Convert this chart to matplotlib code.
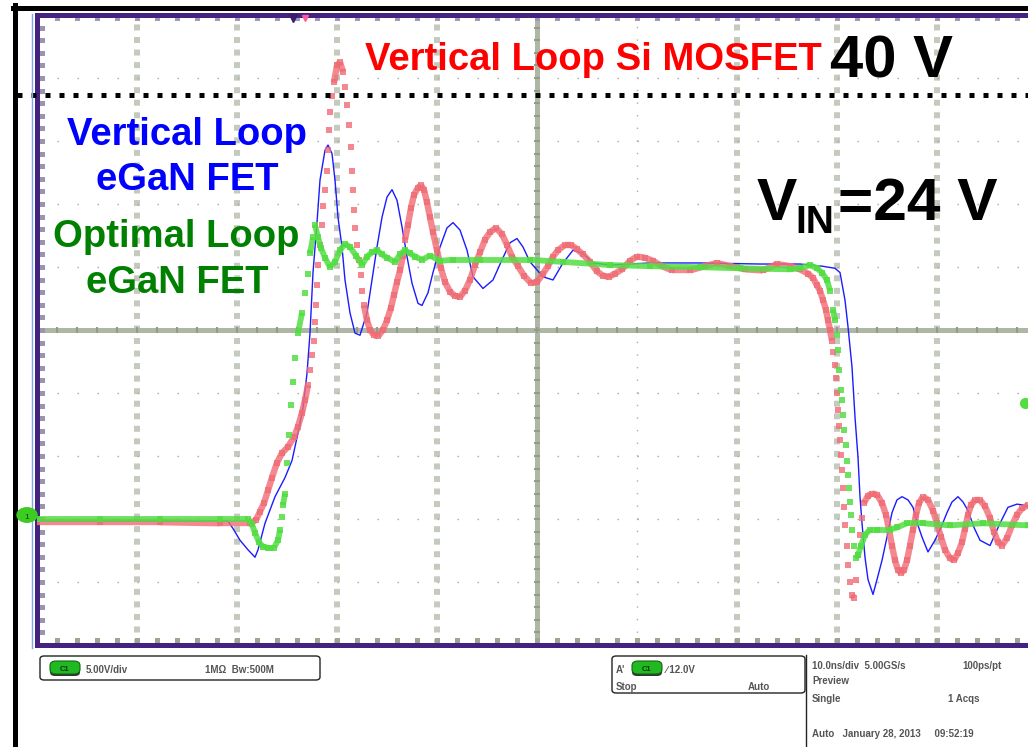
import matplotlib.pyplot as plt
import numpy as np
from matplotlib.collections import LineCollection
from matplotlib.lines import Line2D
from matplotlib.patches import FancyBboxPatch, Circle

plt.rcParams['font.family'] = ['Liberation Sans', 'DejaVu Sans']

# switch-node waveforms, time in ns, voltage in V
blue_t = [0, 11.3, 19.1, 19.6, 20.3, 21.1, 21.8, 22.1, 22.8, 23.8, 24.8, 25.5, 26.1, 26.6,
          27.0, 27.3, 27.6, 28.0, 28.3, 28.8, 29.1, 29.5, 29.8, 30.1, 30.5, 30.8, 31.3, 31.8,
          32.3, 33.0, 33.5, 34.0, 34.5, 35.0, 35.5, 36.0, 36.5, 37.0, 37.5, 38.1, 38.5, 39.1,
          39.6, 40.3, 41.0, 41.6, 42.3, 43.0, 43.6, 44.6, 45.6, 46.5, 47.3, 48.0, 48.6, 49.3,
          50.6, 51.6, 52.6, 53.6, 54.6, 55.6, 57.3, 61.3, 66.3, 72.3, 76.3, 78.5, 79.8, 80.3,
          80.8, 81.1, 81.5, 81.8, 82.1, 82.3, 82.5, 82.8, 83.1, 83.6, 84.0, 84.5, 85.0, 85.5,
          86.0, 86.5, 87.1, 87.6, 88.1, 88.5, 89.1, 89.8, 90.4, 91.0, 91.5, 92.1, 92.6, 93.1,
          93.7, 94.3, 95.3, 96.3, 97.1, 98.0, 98.7, 99.1]
blue_v = [-0.1, -0.1, -0.1, -0.8, -1.9, -2.8, -3.5, -2.8, -0.3, 2.2, 4.0, 5.6, 8.2, 10.6,
          13.8, 17.6, 23.3, 28.0, 32.0, 34.8, 35.3, 34.5, 32.0, 28.5, 25.7, 22.6, 19.5, 17.6,
          17.4, 19.5, 22.6, 25.7, 28.5, 30.4, 31.1, 30.1, 27.6, 24.8, 22.3, 20.4, 20.2, 21.4,
          23.3, 25.7, 27.5, 28.0, 27.3, 25.4, 22.9, 21.8, 22.6, 24.5, 26.1, 26.5, 25.7, 24.3,
          22.9, 22.6, 24.2, 25.4, 25.1, 24.2, 24.0, 24.2, 24.2, 24.1, 24.1, 23.9, 23.7, 23.3,
          20.7, 18.2, 14.4, 9.7, 5.9, 2.2, -0.3, -3.5, -5.6, -7.0, -5.6, -3.8, -1.6, 0.7,
          1.9, 2.2, 1.9, 1.2, -0.5, -1.6, -3.0, -1.9, -0.7, 0.7, 1.7, 2.2, 1.7, 0.9,
          -0.7, -1.9, -2.4, -0.3, 1.2, 1.5, 1.4, 1.2]

red_t = [0, 6.3, 12.3, 18.3, 21.3, 21.9, 22.3, 22.7, 23.1, 23.5, 24.0, 24.5, 25.1, 25.7,
         26.1, 26.5, 26.8, 27.1, 27.3, 27.5, 27.7, 27.8, 27.9, 28.0, 28.1, 28.3, 28.5, 28.6,
         28.8, 29.0, 29.1, 29.2, 29.3, 29.5, 29.7, 30.0, 30.3, 30.6, 30.8, 31.0, 31.2, 31.4,
         31.5, 31.6, 31.7, 31.8, 32.0, 32.2, 32.4, 32.5, 32.7, 33.0, 33.3, 33.7, 34.1, 34.6,
         35.0, 35.4, 35.7, 36.0, 36.3, 36.6, 36.8, 37.1, 37.4, 37.7, 38.1, 38.4, 38.7, 39.0,
         39.3, 39.6, 40.0, 40.4, 40.8, 41.3, 41.8, 42.3, 42.8, 43.3, 43.8, 44.3, 44.8, 45.3,
         45.9, 46.5, 47.0, 47.5, 48.1, 48.7, 49.4, 50.0, 50.6, 51.1, 51.6, 52.1, 52.8, 53.4,
         54.0, 54.6, 55.3, 56.0, 56.6, 57.2, 57.8, 58.5, 59.3, 60.0, 60.8, 61.6, 62.5, 63.5,
         65.3, 66.8, 68.0, 69.3, 70.8, 72.6, 74.0, 75.3, 76.3, 77.1, 77.6, 78.0, 78.3, 78.6,
         78.9, 79.1, 79.3, 79.5, 79.6, 79.8, 79.9, 80.0, 80.1, 80.2, 80.3, 80.4, 80.5, 80.6,
         80.7, 80.8, 81.0, 81.1, 81.3, 81.5, 81.7, 81.9, 82.1, 82.3, 82.5, 82.7, 83.1, 83.5,
         84.0, 84.5, 84.9, 85.2, 85.5, 85.8, 86.1, 86.4, 86.7, 87.0, 87.3, 87.6, 87.9, 88.2,
         88.6, 89.1, 89.6, 90.0, 90.4, 90.8, 91.3, 91.7, 92.1, 92.5, 92.8, 93.1, 93.4, 93.8,
         94.3, 94.8, 95.3, 95.7, 96.1, 96.5, 97.0, 97.5, 98.0, 98.5, 99.1]
red_v = [-0.2, -0.2, -0.2, -0.3, -0.3, 0.0, 0.8, 1.6, 2.8, 4.0, 5.4, 6.3, 6.9, 7.8,
         8.8, 10.1, 11.3, 12.7, 14.1, 15.5, 16.9, 18.6, 20.2, 22.1, 24.0, 25.9, 27.8, 29.6,
         31.1, 32.9, 34.8, 36.7, 38.4, 39.9, 41.2, 42.8, 43.1, 42.2, 40.8, 39.1, 37.2, 35.1,
         32.9, 31.1, 29.2, 27.5, 25.9, 24.5, 23.1, 21.6, 20.2, 18.8, 17.9, 17.4, 17.3, 17.9,
         18.8, 20.0, 21.2, 22.4, 23.5, 24.9, 26.4, 27.8, 29.4, 30.6, 31.3, 31.5, 31.1, 29.9,
         28.5, 27.1, 25.4, 23.7, 22.4, 21.5, 21.1, 21.0, 21.6, 22.6, 24.0, 25.2, 26.4, 27.1,
         27.5, 26.9, 25.9, 24.8, 23.9, 23.0, 22.3, 22.4, 23.2, 23.9, 24.8, 25.4, 25.9, 25.9,
         25.5, 25.0, 24.3, 23.4, 23.0, 22.9, 23.2, 23.6, 24.4, 24.8, 24.7, 24.4, 23.9, 23.5,
         23.5, 23.9, 24.2, 23.9, 23.6, 23.5, 24.1, 23.9, 23.6, 23.2, 22.8, 22.1, 21.6, 20.7,
         19.8, 18.8, 17.9, 16.9, 15.8, 14.6, 13.4, 12.0, 10.4, 8.9, 7.5, 6.1, 4.7, 3.0,
         1.2, -0.5, -2.4, -4.2, -5.8, -7.1, -7.3, -5.6, -3.3, -1.4, 0.2, 1.6, 2.3, 2.5,
         2.4, 1.6, 0.5, -0.9, -2.4, -3.8, -4.7, -5.0, -4.7, -3.8, -2.4, -0.9, 0.5, 1.6,
         2.2, 1.9, 0.9, -0.3, -1.6, -2.8, -3.6, -3.8, -3.1, -2.1, -0.8, 0.5, 1.4, 1.9,
         1.9, 1.3, 0.2, -1.1, -2.1, -2.4, -1.7, -0.5, 0.5, 1.1, 1.4]

green_t = [0, 6.3, 12.3, 18.3, 21.1, 21.5, 21.8, 22.2, 22.6, 23.1, 23.7, 24.1, 24.3, 24.5,
           24.6, 24.8, 25.0, 25.2, 25.4, 25.6, 25.8, 26.1, 26.5, 26.8, 27.1, 27.3, 27.6, 27.8,
           28.1, 28.4, 28.8, 29.3, 29.8, 30.3, 30.8, 31.3, 31.9, 32.5, 33.0, 33.5, 34.0, 34.5,
           35.0, 35.8, 36.3, 36.8, 37.3, 37.8, 38.5, 39.3, 40.3, 41.6, 44.3, 49.3, 52.6, 57.3,
           61.3, 66.3, 70.3, 75.3, 76.3, 77.3, 78.0, 78.5, 79.0, 79.3, 79.6, 79.8, 80.0, 80.1,
           80.2, 80.4, 80.5, 80.6, 80.7, 80.9, 81.0, 81.1, 81.2, 81.3, 81.4, 81.5, 81.7, 81.9,
           82.1, 82.4, 82.8, 83.3, 84.0, 85.3, 86.0, 87.0, 88.6, 91.3, 94.6, 99.1]
green_v = [0.1, 0.1, 0.1, 0.1, 0.1, -0.4, -1.2, -2.1, -2.5, -2.6, -2.6, -1.9, -0.9, 0.3,
           1.4, 2.5, 5.4, 8.0, 10.8, 13.0, 15.3, 17.6, 19.5, 21.4, 23.2, 25.1, 26.6, 27.8,
           26.6, 25.6, 24.7, 23.8, 24.3, 25.4, 26.0, 25.7, 24.9, 24.0, 24.8, 25.2, 25.4, 25.0,
           24.7, 24.3, 25.0, 25.4, 25.1, 24.8, 24.5, 24.9, 24.4, 24.5, 24.5, 24.5, 24.3, 24.0,
           23.9, 23.8, 23.7, 23.6, 23.7, 24.0, 23.7, 23.3, 22.6, 21.6, 19.8, 18.8, 17.4, 16.0,
           14.1, 12.2, 11.3, 9.9, 8.5, 7.1, 5.6, 4.2, 3.0, 1.7, 0.5, -0.9, -2.4, -3.6,
           -3.3, -2.4, -1.4, -0.9, -0.9, -0.9, -0.7, -0.3, -0.3, -0.5, -0.3, -0.5]

V_IN = 24
V_LIMIT = 40
T_DIV = 10.0          # ns/div
V_DIV = 5.93          # V/div on screen
Y_LO = -11.76
Y_HI = Y_LO + 10 * V_DIV
CENTER_V = Y_LO + 5 * V_DIV

W, H = 1028, 747


def P(x, y):
    # figure pixel (from top-left) -> figure fraction
    return x / W, 1 - y / H


def scope_trace(ax, t, v, color, lw, ms, alpha, z, max_slope=6.0):
    # sample dots; where the trace moves slowly the dots merge into a band
    t = np.asarray(t, float)
    v = np.asarray(v, float)
    seg = np.stack([np.column_stack([t[:-1], v[:-1]]),
                    np.column_stack([t[1:], v[1:]])], axis=1)
    dy_px = np.abs(np.diff(v)) / V_DIV * 63
    dx_px = np.diff(t) / T_DIV * 100
    keep = dy_px / dx_px < max_slope
    lc = LineCollection(seg[keep], colors=color, linewidths=lw, alpha=alpha,
                        capstyle='butt', zorder=z)
    ax.add_collection(lc)
    ax.plot(t, v, 's', ms=ms, mew=0, color=color, alpha=alpha, zorder=z)


fig = plt.figure(figsize=(W / 100, H / 100), dpi=100)
ax = fig.add_axes([37 / W, (H - 645) / H, 1000 / W, 630 / H])
ax.set_xlim(0, 10 * T_DIV)
ax.set_ylim(Y_LO, Y_HI)
ax.set_xticks([])
ax.set_yticks([])
purple = '#43237f'
for s in ['left', 'top', 'bottom']:
    ax.spines[s].set_color(purple)
    ax.spines[s].set_linewidth(3.6)
ax.spines['right'].set_visible(False)

# graticule
for k in range(1, 10):
    x = k * T_DIV
    if k == 5:
        ax.axvline(x, color='#aeb6a5', lw=3.6, zorder=1)
    elif k == 6:
        ax.axvline(x, color='#a9aeb5', lw=1, ls=(0, (1, 8.07)), zorder=1)
    else:
        ax.axvline(x, color='#c4cabd', lw=4.3, ls=(0, (1, 1.1)), zorder=1)
for j in range(1, 10):
    y = Y_LO + j * V_DIV
    if j == 5:
        ax.axhline(y, color='#aeb6a5', lw=3.6, zorder=1)
    else:
        ax.axhline(y, color='#a5a9a5', lw=1, ls=(0, (1, 13.4)), zorder=1)

minor_t = np.arange(0, 100.1, 2)
minor_v = Y_LO + np.arange(0, 50.1) * V_DIV / 5
ax.plot(minor_t, [CENTER_V] * len(minor_t), '|', ms=5, mew=1.5, color='#929c88', zorder=1)
ax.plot([5 * T_DIV] * len(minor_v), minor_v, '_', ms=5, mew=1.5, color='#929c88', zorder=1)
ax.plot(minor_t, [Y_HI - 0.25] * len(minor_t), 's', ms=3.6, mew=0, color='#a497bf',
        zorder=2, clip_on=False)
ax.plot(minor_t, [Y_LO + 0.45] * len(minor_t), 's', ms=3.6, mew=0, color='#9ea68f',
        zorder=2, clip_on=False)
ax.plot([0.5] * len(minor_v), minor_v, 's', ms=3.6, mew=0, color='#9c93b0', zorder=2)

# 40 V limit
ax.plot([-2.0, 10 * T_DIV], [V_LIMIT, V_LIMIT], color='black', lw=3.6,
        ls=(0, (1, 1.8)), zorder=6, clip_on=False)

# traces
ax.plot(blue_t, blue_v, color='#1b1bff', lw=1.0, zorder=3)
scope_trace(ax, red_t, red_v, '#f06b74', 4.6, 4.8, 0.8, 4)
scope_trace(ax, green_t, green_v, '#52dd42', 4.2, 4.6, 0.85, 5)

# frame around the screen
fig.add_artist(Line2D([15 / W, 15 / W], [0, 1 - 5 / H], color='black', lw=3.6))
fig.add_artist(Line2D([13 / W, 1], [1 - 7.5 / H] * 2, color='black', lw=3.6))
fig.add_artist(Line2D([32 / W, 32 / W], [1 - 14 / H, 1 - 648 / H], color='#7fa8e8', lw=1))

# markers on the screen edge
fig.add_artist(Circle(P(27, 515), 10 / W, transform=fig.transFigure,
                      color='#3ccc22', zorder=8))
fig.text(*P(27, 519), '1', fontsize=6, ha='center', color='#114411', zorder=9)
ax.plot([98.8], [(520 - 403) / 10.625], 'o', ms=7, color='#52dd42', zorder=7, clip_on=False)
ax.plot([25.6], [Y_HI - 0.3], 'v', ms=6, color='#3a1a70', zorder=7, clip_on=False)
ax.plot([26.8], [Y_HI - 0.3], 'v', ms=5, color='#ff5a9a', zorder=7, clip_on=False)

# annotations
bold = dict(fontweight='bold', va='baseline')
fig.text(*P(365, 70), 'Vertical Loop Si MOSFET', color='#ff0000', fontsize=27.5, **bold)
fig.text(*P(830, 77), '40 V', color='black', fontsize=43, **bold)
fig.text(*P(757, 220), 'V', color='black', fontsize=43.5, **bold)
fig.text(*P(795, 233), 'IN', color='black', fontsize=28, **bold)
fig.text(*P(838, 220), '=24 V', color='black', fontsize=43.5, **bold)
fig.text(*P(187, 145), 'Vertical Loop', color='#0000ff', fontsize=27.5, ha='center', **bold)
fig.text(*P(187, 190), 'eGaN FET', color='#0000ff', fontsize=27.5, ha='center', **bold)
fig.text(*P(176, 247), 'Optimal Loop', color='#008000', fontsize=27.5, ha='center', **bold)
fig.text(*P(177, 293), 'eGaN FET', color='#008000', fontsize=27.5, ha='center', **bold)


# status bar
def box(x0, y0, x1, y1):
    fig.add_artist(FancyBboxPatch(P(x0, y1), (x1 - x0) / W, (y1 - y0) / H,
                                  boxstyle='round,pad=0,rounding_size=0.004',
                                  transform=fig.transFigure, fc='none', ec='#222222',
                                  lw=1))


def pill(x, y):
    fig.add_artist(FancyBboxPatch(P(x, y + 15), 30 / W, 10 / H,
                                  boxstyle='round,pad=0,rounding_size=0.005',
                                  transform=fig.transFigure, fc='#333333', ec='none'))
    fig.add_artist(FancyBboxPatch(P(x, y + 13), 30 / W, 13 / H,
                                  boxstyle='round,pad=0,rounding_size=0.006',
                                  transform=fig.transFigure, fc='#22b822', ec='#116611',
                                  lw=0.8))
    fig.text(*P(x + 15, y + 10), 'C1', fontsize=5.5, ha='center', va='baseline',
             color='#0a3a0a', fontweight='bold')


box(40, 656, 320, 680)
pill(50, 661)
box(612, 656, 805, 693)
pill(632, 661)
fig.add_artist(Line2D([806 / W, 806 / W], [0, 1 - 655 / H], color='#222222', lw=1))

small = dict(fontsize=7, fontweight='bold', color='#555555', va='baseline')
fig.text(*P(86, 673), '5.00V/div', **small)
fig.text(*P(205, 673), '1MΩ  Bw:500M', **small)
fig.text(*P(616, 673), "A'", **small)
fig.text(*P(666, 673), '∕ 12.0V', **small)
fig.text(*P(616, 690), 'Stop', **small)
fig.text(*P(748, 690), 'Auto', **small)
fig.text(*P(812, 669), '10.0ns/div  5.00GS/s', **small)
fig.text(*P(962, 669), '100ps/pt', **small)
fig.text(*P(812, 684), 'Preview', **small)
fig.text(*P(812, 702), 'Single', **small)
fig.text(*P(948, 702), '1 Acqs', **small)
fig.text(*P(812, 737), 'Auto   January 28, 2013     09:52:19', **small)

fig.savefig('out.png', dpi=100)
